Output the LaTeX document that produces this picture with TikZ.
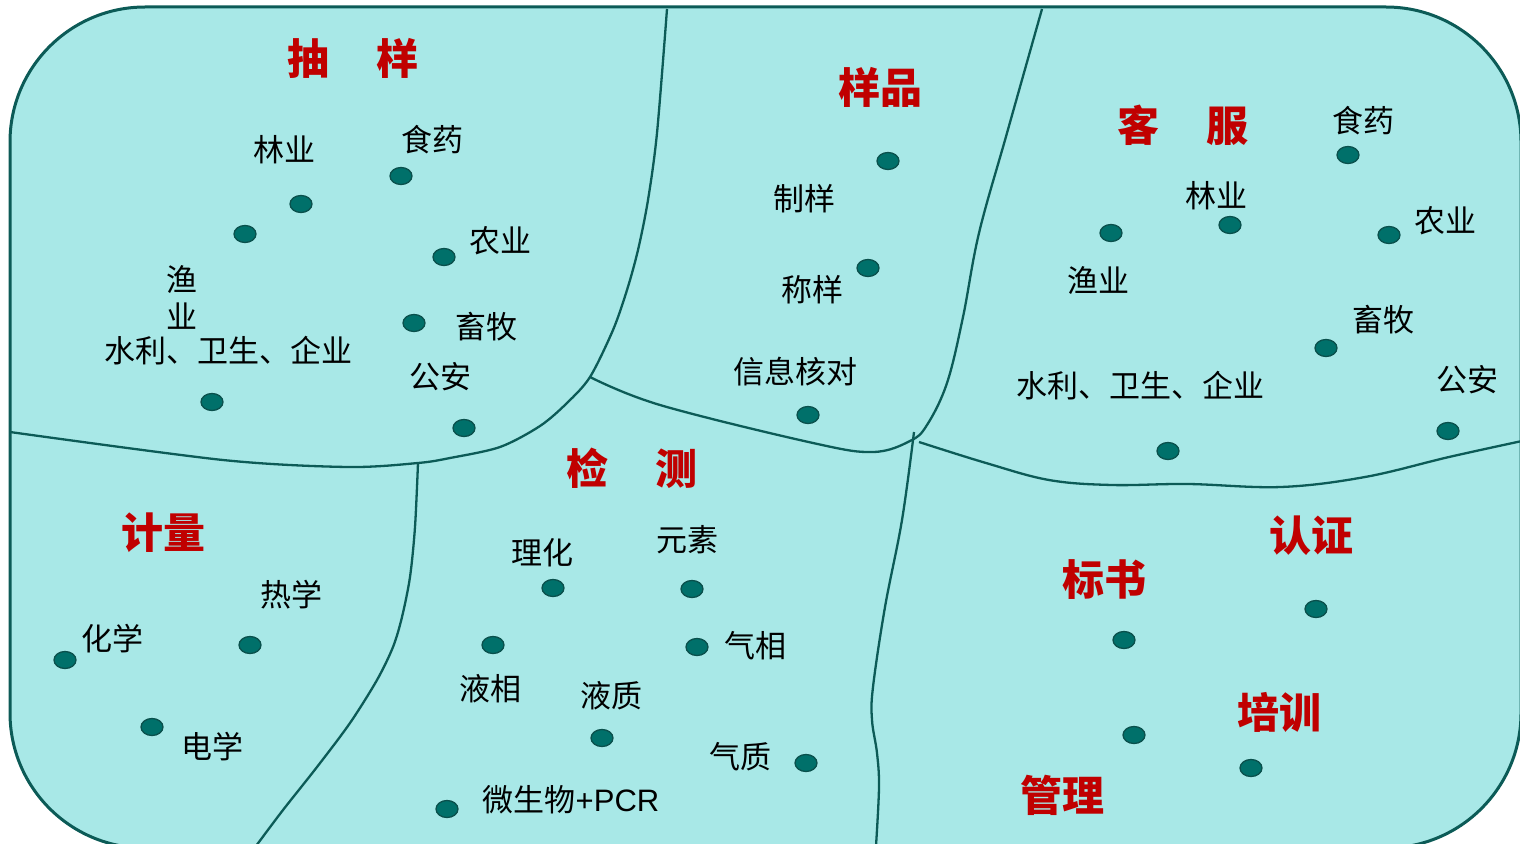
\documentclass[tikz,border=0pt]{standalone}
\usepackage{fontspec}
\newfontfamily\cjk{Noto Sans CJK SC}
\newfontfamily\lat{Liberation Sans}
\usetikzlibrary{shapes.geometric}
\definecolor{bgc}{HTML}{A8E8E7}
\definecolor{linec}{HTML}{0C5B57}
\definecolor{dotc}{HTML}{00706A}
\definecolor{dotb}{HTML}{0A504C}
\definecolor{redc}{HTML}{C00000}
\tikzset{
 border/.style={draw=linec, line width=2.3pt},
 dotn/.style={ellipse, fill=dotc, draw=dotb, line width=1.3pt, minimum width=22pt, minimum height=17pt, inner sep=0pt},
 lbl/.style={inner sep=0pt, font=\cjk\fontsize{31}{37}\selectfont, text=black},
 ttl/.style={inner sep=0pt, font=\cjk\bfseries\fontsize{42}{48}\selectfont, text=redc},
}
\begin{document}
\begin{tikzpicture}[x=1pt,y=-1pt]
\useasboundingbox (0,0) rectangle (1520,843);
\fill[white] (0,0) rectangle (1520,843);
\clip (0,0) rectangle (1520,843);
\path[fill=bgc, draw=linec, line width=3pt, rounded corners=135pt] (10,7) rectangle (1521,848);
% junctions
\coordinate (J1) at (590,377);
\coordinate (J2) at (418,463);
\coordinate (J3) at (916,434);
% boundaries
\draw[border] plot[smooth, tension=0.5] coordinates {(667,9) (657,133) (648,200) (638,250) (627,290) (613,330) (590,377) (567,403) (540,426) (500,447) (450,458) (418,463) (348,467) (223,460) (10,432)};
\draw[border] plot[smooth, tension=0.6] coordinates {(590,377) (660,405) (813,443) (873,452) (910,441) (927,425) (947,383) (963,317) (979,233) (1007,133) (1042,9)};
\draw[border] plot[smooth, tension=0.6] coordinates {(914,432) (902,520) (885,607) (873,687) (872,720) (877,753) (879,787) (876,846)};
\draw[border] plot[smooth, tension=0.6] coordinates {(919,442) (986,463) (1049,480) (1112,485) (1188,484) (1281,487) (1365,477) (1449,457) (1522,441)};
\draw[border] plot[smooth, tension=0.5] coordinates {(418,463) (415,527) (410,577) (402,617) (393,647) (377,680) (350,723) (317,767) (283,810) (256,846)};
% titles
\node[ttl] (t1) at (353,58) {抽\hspace{48pt}样};
\node[ttl] (t2) at (880,87) {样品};
\node[ttl] (t3) at (1183,125) {客\hspace{48pt}服};
\node[ttl] (t4) at (632,468) {检\hspace{48pt}测};
\node[ttl] (t5) at (163,533) {计量};
\node[ttl] (t6) at (1311,536) {认证};
\node[ttl] (t7) at (1104,580) {标书};
\node[ttl] (t8) at (1279,712) {培训};
\node[ttl] (t9) at (1062,795) {管理};
% labels: sampling
\node[lbl] (a1) at (284,150) {林业};
\node[lbl] (a2) at (432,140) {食药};
\node[lbl] (a3) at (500,241) {农业};
\node[lbl, align=center] (a4) at (182,297.5) {渔\\业};
\node[lbl] (a5) at (486,327) {畜牧};
\node[lbl] (a6) at (228,351) {水利、卫生、企业};
\node[lbl] (a7) at (440,377) {公安};
% sample
\node[lbl] (b1) at (804,199) {制样};
\node[lbl] (b2) at (812,290) {称样};
\node[lbl] (b3) at (795,372) {信息核对};
% service
\node[lbl] (c1) at (1363,121) {食药};
\node[lbl] (c2) at (1216,196) {林业};
\node[lbl] (c3) at (1445,221) {农业};
\node[lbl] (c4) at (1098,281) {渔业};
\node[lbl] (c5) at (1383,320) {畜牧};
\node[lbl] (c6) at (1140,386) {水利、卫生、企业};
\node[lbl] (c7) at (1467,380) {公安};
% metrology
\node[lbl] (d1) at (291,595) {热学};
\node[lbl] (d2) at (112,639) {化学};
\node[lbl] (d3) at (212,747) {电学};
% testing
\node[lbl] (e1) at (542,553) {理化};
\node[lbl] (e2) at (687,540) {元素};
\node[lbl] (e3) at (755,646) {气相};
\node[lbl] (e4) at (490,689) {液相};
\node[lbl] (e5) at (611,696) {液质};
\node[lbl] (e6) at (740,757) {气质};
\node[lbl] (e7) at (571,800) {微生物{\lat +PCR}};
% dots
\node[dotn] (p1) at (301,204) {};
\node[dotn] (p2) at (245,234) {};
\node[dotn] (p3) at (401,176) {};
\node[dotn] (p4) at (444,257) {};
\node[dotn] (p5) at (414,323) {};
\node[dotn] (p6) at (212,402) {};
\node[dotn] (p7) at (464,428) {};
\node[dotn] (q1) at (888,161) {};
\node[dotn] (q2) at (868,268) {};
\node[dotn] (q3) at (808,415) {};
\node[dotn] (r1) at (1348,155) {};
\node[dotn] (r2) at (1111,233) {};
\node[dotn] (r3) at (1230,225) {};
\node[dotn] (r4) at (1389,235) {};
\node[dotn] (r5) at (1326,348) {};
\node[dotn] (r6) at (1168,451) {};
\node[dotn] (r7) at (1448,431) {};
\node[dotn] (s1) at (65,660) {};
\node[dotn] (s2) at (250,645) {};
\node[dotn] (s3) at (152,727) {};
\node[dotn] (u1) at (553,588) {};
\node[dotn] (u2) at (692,589) {};
\node[dotn] (u3) at (493,645) {};
\node[dotn] (u4) at (697,647) {};
\node[dotn] (u5) at (602,738) {};
\node[dotn] (u6) at (806,763) {};
\node[dotn] (u7) at (447,809) {};
\node[dotn] (v1) at (1316,609) {};
\node[dotn] (v2) at (1124,640) {};
\node[dotn] (v3) at (1134,735) {};
\node[dotn] (v4) at (1251,768) {};
\end{tikzpicture}
\end{document}
